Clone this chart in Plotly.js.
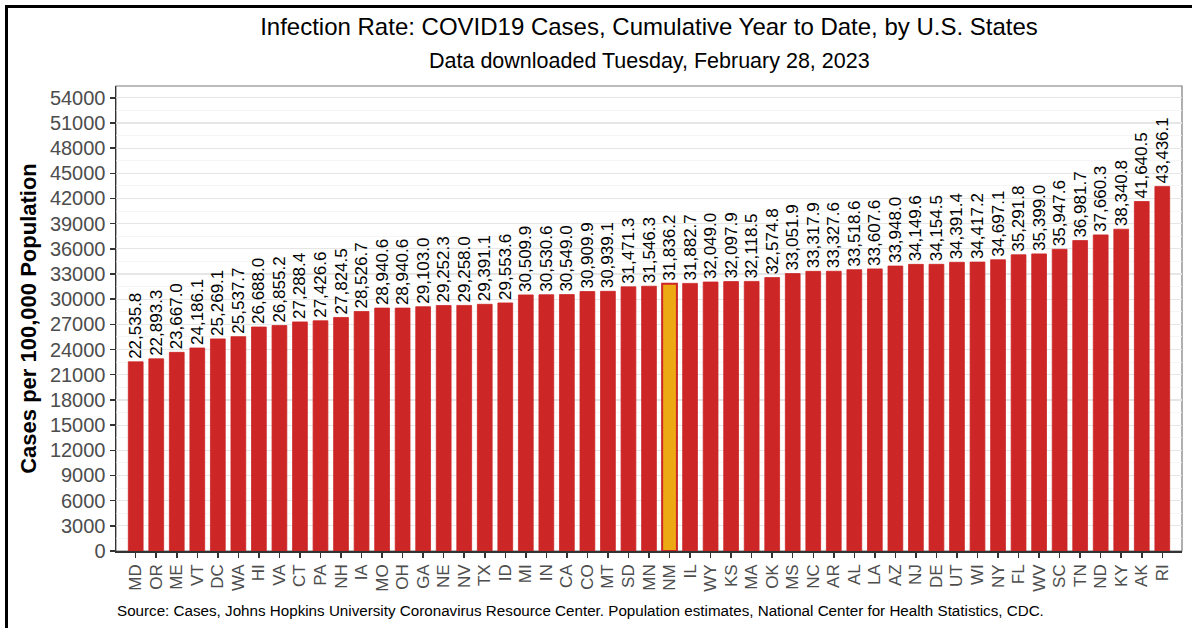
<!DOCTYPE html>
<html>
<head>
<meta charset="utf-8">
<script src="https://cdn.plot.ly/plotly-3.0.1.min.js"></script>
<style>
  html, body { margin: 0; padding: 0; background: #fff; overflow: hidden; }
  #chart { width: 1192px; height: 628px; position: absolute; left: 0; top: 0; }
  #frame { position: absolute; left: 5px; top: 5px; width: 1200px; height: 700px; border: 3px solid #000; box-sizing: border-box; pointer-events: none; }
</style>
</head>
<body>
<div id="chart"></div>
<div id="frame"></div>
<script>
const states = ["MD","OR","ME","VT","DC","WA","HI","VA","CT","PA","NH","IA","MO","OH","GA","NE","NV","TX","ID","MI","IN","CA","CO","MT","SD","MN","NM","IL","WY","KS","MA","OK","MS","NC","AR","AL","LA","AZ","NJ","DE","UT","WI","NY","FL","WV","SC","TN","ND","KY","AK","RI"];
const rates = [22535.8,22893.3,23667.0,24186.1,25269.1,25537.7,26688.0,26855.2,27288.4,27426.6,27824.5,28526.7,28940.6,28940.6,29103.0,29252.3,29258.0,29391.1,29553.6,30509.9,30530.6,30549.0,30909.9,30939.1,31471.3,31546.3,31836.2,31882.7,32049.0,32097.9,32118.5,32574.8,33051.9,33317.9,33327.6,33518.6,33607.6,33948.0,34149.6,34154.5,34391.4,34417.2,34697.1,35291.8,35399.0,35947.6,36981.7,37660.3,38340.8,41640.5,43436.1];
const highlightState = "NM";
const yTicks = [0,3000,6000,9000,12000,15000,18000,21000,24000,27000,30000,33000,36000,39000,42000,45000,48000,51000,54000];

const red = "#CD2626";
const gold = "#ECA914";
const labels = rates.map(v => v.toLocaleString("en-US", {minimumFractionDigits: 1, maximumFractionDigits: 1}));
const fills = states.map(s => s === highlightState ? gold : red);
const lineW = states.map(s => s === highlightState ? 2 : 0.8);

const trace = {
  type: "bar",
  x: states,
  y: rates,
  text: labels,
  texttemplate: "%{text}",
  textposition: "outside",
  textangle: -90,
  constraintext: "none",
  cliponaxis: false,
  textfont: {family: "Liberation Sans, Arial, sans-serif", size: 17, color: "#000"},
  width: 0.72,
  marker: {color: fills, line: {color: red, width: lineW}},
  hoverinfo: "x+y"
};

const layout = {
  width: 1192, height: 628,
  margin: {l: 116, r: 10, t: 86, b: 77},
  paper_bgcolor: "#fff",
  plot_bgcolor: "#fff",
  font: {family: "Liberation Sans, Arial, sans-serif", color: "#000"},
  showlegend: false,
  title: {
    text: "Infection Rate: COVID19 Cases, Cumulative Year to Date, by U.S. States",
    font: {size: 24, color: "#000"},
    xref: "paper", x: 0.5, xanchor: "center",
    yref: "container", y: 1 - 27/628, yanchor: "middle"
  },
  xaxis: {
    type: "category",
    range: [-0.96, 50.96],
    tickangle: -90,
    tickfont: {size: 17, color: "#4d4d4d"},
    ticks: "outside", ticklen: 5, tickwidth: 1.5, tickcolor: "#333",
    showline: true, linecolor: "#333", linewidth: 1.5,
    showgrid: false, zeroline: false,
    fixedrange: true
  },
  yaxis: {
    range: [0, 55400],
    tickmode: "array", tickvals: yTicks, ticktext: yTicks.map(String),
    tickfont: {size: 20, color: "#4d4d4d"},
    ticks: "outside", ticklen: 5, tickwidth: 1.5, tickcolor: "#333",
    showline: true, linecolor: "#333", linewidth: 1.5,
    showgrid: true, gridcolor: "#e6e6e6", gridwidth: 1.2,
    minor: {tickmode: "linear", tick0: 1500, dtick: 3000, showgrid: true, gridcolor: "#f2f2f2", gridwidth: 0.8, ticks: ""},
    zeroline: false,
    title: {text: "<b>Cases per 100,000 Population</b>", font: {size: 22, color: "#000"}, standoff: 7},
    fixedrange: true
  },
  shapes: [
    {type: "rect", xref: "paper", yref: "paper", x0: 0, x1: 1, y0: 0, y1: 1,
     line: {color: "#7a7a7a", width: 1.2}, fillcolor: "rgba(0,0,0,0)", layer: "below"}
  ],
  annotations: [
    {text: "Data downloaded Tuesday, February 28, 2023", xref: "paper", x: 0.5, xanchor: "center",
     yref: "paper", y: 1 + (86-61)/465, yanchor: "middle", showarrow: false,
     font: {size: 21.5, color: "#000"}},
    {text: "Source: Cases, Johns Hopkins University Coronavirus Resource Center. Population estimates, National Center for Health Statistics, CDC.",
     xref: "paper", x: 0, xanchor: "left", xshift: -1,
     yref: "paper", y: -(610-551)/465, yanchor: "middle", showarrow: false,
     font: {size: 15.2, color: "#000"}}
  ]
};

Plotly.newPlot("chart", [trace], layout, {displayModeBar: false, staticPlot: true});
</script>
</body>
</html>
